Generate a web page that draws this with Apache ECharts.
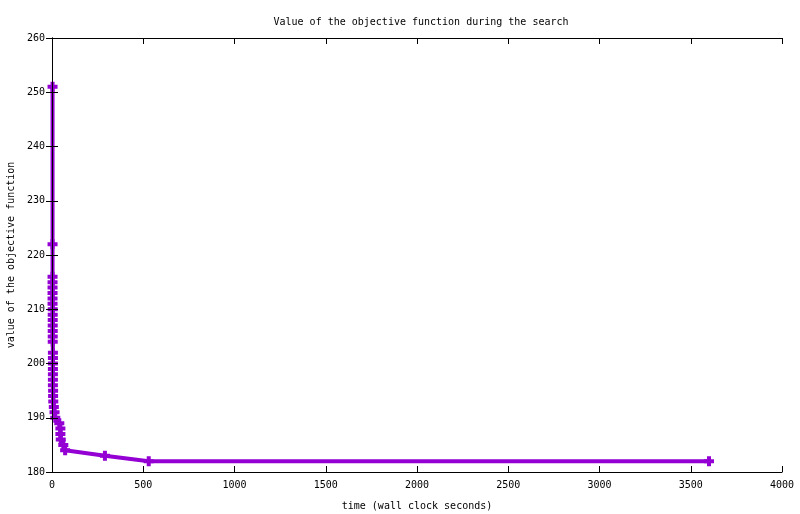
<!DOCTYPE html>
<html><head><meta charset="utf-8">
<script src="https://cdn.jsdelivr.net/npm/echarts@6/dist/echarts.min.js"></script>
<style>html,body{margin:0;padding:0;background:#fff}#c{width:800px;height:514px}</style>
</head><body><div id="c"></div>
<script>
const titleText = 'Value of the objective function during the search';
const xName = 'time (wall clock seconds)';
const yName = 'value of the objective function';
const times = [3, 3, 3, 3, 3, 3, 3, 3, 4, 4, 4, 4, 4, 4, 4, 5, 5, 5, 5, 5, 5, 5, 6, 6, 7, 10, 14, 18, 40, 46, 46, 48, 62, 72, 290, 530, 3600];
const values = [251, 222, 216, 215, 214, 213, 212, 211, 210, 209, 208, 207, 206, 205, 204, 202, 201, 200, 199, 198, 197, 196, 195, 194, 193, 192, 191, 190, 189, 188, 187, 186, 185, 184, 183, 182, 182];
const xMin = 0, xMax = 4000, xStep = 500;
const yMin = 180, yMax = 260, yStep = 10;

const FONT = 'DejaVu Sans Mono';
const chart = echarts.init(document.getElementById('c'), null, {renderer: 'canvas'});
const plus = 'path://M3,0 H7 V3 H10 V7 H7 V10 H3 V7 H0 V3 H3 Z';
const axisCommon = {
  axisLine: {show: true, lineStyle: {color: '#000', width: 1}},
  axisTick: {show: true, inside: true, length: 6, lineStyle: {color: '#000'}},
  splitLine: {show: false},
  z: 10
};
chart.setOption({
  backgroundColor: '#fff',
  animation: false,
  title: {
    text: titleText, left: 416, top: 12, textAlign: 'center',
    textStyle: {fontFamily: FONT, fontSize: 10, fontWeight: 'normal', color: '#000'}
  },
  grid: {left: 52, right: 18, top: 38, bottom: 42, containLabel: false, outerBoundsMode: 'none'},
  xAxis: [
    Object.assign({}, axisCommon, {
      type: 'value', min: xMin, max: xMax, interval: xStep, position: 'bottom',
      name: xName, nameLocation: 'middle', nameGap: 29,
      nameTextStyle: {fontFamily: FONT, fontSize: 10, color: '#000'},
      axisLabel: {fontFamily: FONT, fontSize: 10, color: '#000', margin: 8, formatter: v => String(v)}
    }),
    Object.assign({}, axisCommon, {
      type: 'value', min: xMin, max: xMax, interval: xStep, position: 'top',
      axisLabel: {show: false}
    })
  ],
  yAxis: [
    Object.assign({}, axisCommon, {
      type: 'value', min: yMin, max: yMax, interval: yStep, position: 'left',
      name: yName, nameLocation: 'middle', nameGap: 35, nameRotate: 90,
      nameTextStyle: {fontFamily: FONT, fontSize: 10, color: '#000'},
      axisLabel: {fontFamily: FONT, fontSize: 10, color: '#000', margin: 7, formatter: v => String(v)}
    }),
    Object.assign({}, axisCommon, {
      type: 'value', min: yMin, max: yMax, interval: yStep, position: 'right',
      axisLabel: {show: false}
    })
  ],
  series: [{
    type: 'line',
    xAxisIndex: 0, yAxisIndex: 0,
    data: times.map((t, i) => [t, values[i]]),
    lineStyle: {color: '#9400D3', width: 4},
    itemStyle: {color: '#9400D3'},
    symbol: plus, symbolSize: 10, showSymbol: true,
    z: 2
  }]
});
</script></body></html>
